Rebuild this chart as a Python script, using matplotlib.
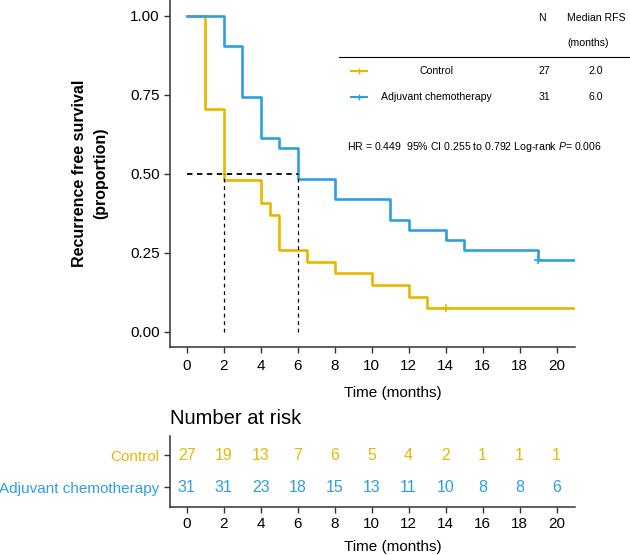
import numpy as np
import matplotlib
matplotlib.use("Agg")
import matplotlib.pyplot as plt
from matplotlib import rcParams

# Kaplan-Meier step data (months, survival proportion)
control_time = [0, 1, 2, 4, 4.5, 5, 6.5, 8, 10, 12, 13, 21]
control_surv = [1.0, 0.704, 0.481, 0.407, 0.370, 0.259, 0.222, 0.185, 0.148, 0.111, 0.074, 0.074]
control_censor_t = [14]
control_censor_s = [0.074]

chemo_time = [0, 2, 3, 4, 5, 6, 8, 11, 12, 14, 15, 19, 21]
chemo_surv = [1.0, 0.903, 0.742, 0.613, 0.581, 0.484, 0.419, 0.355, 0.323, 0.290, 0.258, 0.226, 0.226]
chemo_censor_t = [19]
chemo_censor_s = [0.226]

groups = ["Control", "Adjuvant chemotherapy"]
n_patients = [27, 31]
median_rfs = [2.0, 6.0]
hr_text = "HR = 0.449  95% CI 0.255 to 0.792 Log-rank $\\it{P}$= 0.006"

risk_times = [0, 2, 4, 6, 8, 10, 12, 14, 16, 18, 20]
risk_control = [27, 19, 13, 7, 6, 5, 4, 2, 1, 1, 1]
risk_chemo = [31, 31, 23, 18, 15, 13, 11, 10, 8, 8, 6]

colors = ["#E7B800", "#2E9FDF"]

rcParams["font.family"] = ["Liberation Sans", "DejaVu Sans"]
rcParams["mathtext.fontset"] = "custom"
rcParams["mathtext.it"] = "Liberation Sans:italic"

W, H = 630, 555
fig = plt.figure(figsize=(W / 100, H / 100), dpi=100)


def fx(px):
    return px / W


def fy(py):
    return 1 - py / H


ax = fig.add_axes([fx(170), fy(347), fx(575) - fx(170), fy(0) - fy(347)])
axr = fig.add_axes([fx(170), fy(507), fx(575) - fx(170), fy(436) - fy(507)])

spine_col = "#333333"
for a in (ax, axr):
    for s in ("top", "right"):
        a.spines[s].set_visible(False)
    for s in ("left", "bottom"):
        a.spines[s].set_color(spine_col)
        a.spines[s].set_linewidth(1.1)
    a.tick_params(colors=spine_col, width=1.0, length=4, labelcolor="black")
    a.set_xlim(-0.9, 21)
    a.set_xticks(risk_times)

# --- survival curves ---
ax.step(control_time, control_surv, where="post", color=colors[0], lw=1.9, zorder=3)
ax.step(chemo_time, chemo_surv, where="post", color=colors[1], lw=1.9, zorder=4)
ax.plot(control_censor_t, control_censor_s, "+", color=colors[0], ms=6, mew=1.2, zorder=3)
ax.plot(chemo_censor_t, chemo_censor_s, "+", color=colors[1], ms=6, mew=1.2, zorder=4)

# median lines
ax.plot([0, max(median_rfs)], [0.5, 0.5], ls=(0, (3, 2.5)), color="black", lw=1.3, zorder=5)
for m in median_rfs:
    ax.plot([m, m], [0, 0.5], ls=(0, (3, 3)), color="black", lw=0.9, zorder=5)

ax.set_ylim(-0.048, 1.05)
ax.set_yticks([0, 0.25, 0.5, 0.75, 1.0])
ax.set_yticklabels(["0.00", "0.25", "0.50", "0.75", "1.00"])
ax.tick_params(labelsize=11)
ax.tick_params(axis="x", pad=5)
ax.set_xlabel("Time (months)", fontsize=11)
ax.xaxis.set_label_coords(0.551, -0.111)
ax.set_ylabel("Recurrence free survival\n(proportion)", fontsize=11.5,
              fontweight="bold", linespacing=1.5)
ax.yaxis.set_label_coords(-0.153, 0.5)

# --- legend table ---
fs = 7.6
fig.text(fx(542), fy(18), "N", fontsize=fs, ha="center", va="center")
fig.text(fx(567), fy(18), "Median RFS", fontsize=fs, ha="left", va="center")
fig.text(fx(567), fy(43), "(months)", fontsize=fs, ha="left", va="center")
fig.add_artist(plt.Line2D([fx(339), fx(630)], [fy(57), fy(57)], color="black", lw=0.8))
row_y = [70.7, 96.7]
for i, g in enumerate(groups):
    yy = fy(row_y[i])
    fig.add_artist(plt.Line2D([fx(351), fx(367)], [yy, yy], color=colors[i], lw=1.5))
    fig.add_artist(plt.Line2D([fx(359)], [yy], marker="+", color=colors[i], ms=5, mew=1.0))
    fig.text(fx(436), yy, g, fontsize=fs, ha="center", va="center")
    fig.text(fx(544), yy, str(n_patients[i]), fontsize=fs, ha="center", va="center")
    fig.text(fx(596), yy, f"{median_rfs[i]:.1f}", fontsize=fs, ha="center", va="center")
fig.text(fx(347), fy(146.7), hr_text, fontsize=fs, ha="left", va="center")

# --- number at risk table ---
axr.set_ylim(-0.62, 1.6)
axr.set_yticks([1, 0])
axr.set_yticklabels(groups, fontsize=11)
for lab, c in zip(axr.get_yticklabels(), colors):
    lab.set_color(c)
for t, n in zip(risk_times, risk_control):
    axr.text(t, 1, str(n), color=colors[0], fontsize=11.5, ha="center", va="center")
for t, n in zip(risk_times, risk_chemo):
    axr.text(t, 0, str(n), color=colors[1], fontsize=11.5, ha="center", va="center")
axr.tick_params(labelsize=11)
axr.set_xlabel("Time (months)", fontsize=11)
axr.xaxis.set_label_coords(0.551, -0.47)
fig.text(fx(170), fy(419), "Number at risk", fontsize=14.5, ha="left", va="center")

fig.savefig("out.png", dpi=100)
